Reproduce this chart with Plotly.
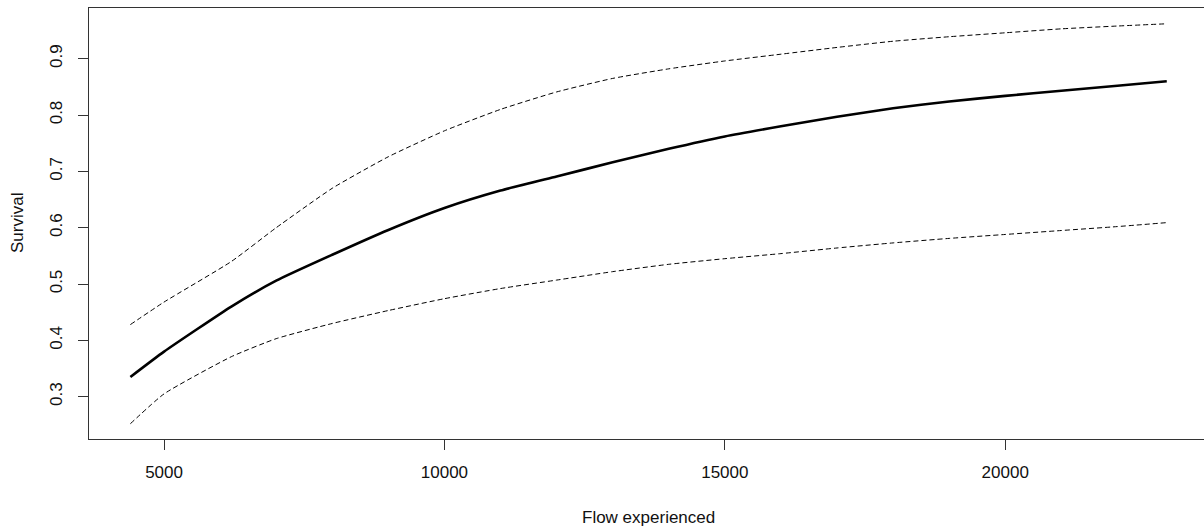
import plotly.graph_objects as go

flow = [4400, 5000, 6200, 7000, 8000, 9000, 10000, 11000, 12000, 13000, 14000,
        15000, 16000, 17000, 18000, 19000, 20000, 21000, 22000, 22880]
survival = [0.335, 0.380, 0.460, 0.506, 0.552, 0.596, 0.635, 0.666, 0.691, 0.716, 0.740,
            0.762, 0.780, 0.797, 0.812, 0.824, 0.834, 0.843, 0.852, 0.860]
upper = [0.428, 0.468, 0.540, 0.600, 0.670, 0.726, 0.772, 0.810, 0.841, 0.865, 0.882,
         0.896, 0.908, 0.920, 0.931, 0.939, 0.946, 0.953, 0.958, 0.962]
lower = [0.252, 0.305, 0.371, 0.403, 0.430, 0.453, 0.474, 0.492, 0.507, 0.522, 0.535,
         0.545, 0.554, 0.564, 0.573, 0.581, 0.588, 0.595, 0.602, 0.609]

x_ticks = [5000, 10000, 15000, 20000]
y_ticks = [0.3, 0.4, 0.5, 0.6, 0.7, 0.8, 0.9]

W, H = 1204, 526
ML, MR, MT, MB = 89, 0, 8, 87
FONT = "Liberation Sans, Arial, sans-serif"

fig = go.Figure()
fig.add_trace(go.Scatter(x=flow, y=upper, mode="lines",
                         line=dict(color="black", width=1, dash="5px,3px", shape="spline", smoothing=0.5),
                         showlegend=False))
fig.add_trace(go.Scatter(x=flow, y=lower, mode="lines",
                         line=dict(color="black", width=1, dash="5px,3px", shape="spline", smoothing=0.5),
                         showlegend=False))
fig.add_trace(go.Scatter(x=flow, y=survival, mode="lines",
                         line=dict(color="black", width=2.6, shape="spline", smoothing=0.5),
                         showlegend=False))

fig.update_layout(
    width=W, height=H,
    margin=dict(l=ML, r=MR, t=MT, b=MB, pad=0),
    paper_bgcolor="white", plot_bgcolor="white",
    font=dict(family=FONT, size=17, color="#111"),
    xaxis=dict(range=[3662, 23544], tickvals=x_ticks, ticktext=[str(v) for v in x_ticks],
               showgrid=False, zeroline=False, showline=True, linecolor="#333", linewidth=1,
               mirror=True, ticks="outside", ticklen=10, tickcolor="#333",
               ticklabelstandoff=8),
    yaxis=dict(range=[0.2249, 0.99], tickvals=y_ticks, ticktext=[str(v) for v in y_ticks],
               showgrid=False, zeroline=False, showline=True, linecolor="#333", linewidth=1,
               mirror=False, ticks="outside", ticklen=10, tickcolor="#333",
               tickangle=-90, ticklabelstandoff=9),
    annotations=[
        dict(text="Flow experienced", xref="paper", yref="paper",
             x=(648 - ML) / (W - ML - MR), y=-(517 - (H - MB)) / (H - MT - MB),
             xanchor="center", yanchor="middle", showarrow=False,
             font=dict(family=FONT, size=17, color="#111")),
        dict(text="Survival", xref="paper", yref="paper",
             x=(17 - ML) / (W - ML - MR), y=((H - MB) - 223) / (H - MT - MB),
             xanchor="center", yanchor="middle", textangle=-90, showarrow=False,
             font=dict(family=FONT, size=17, color="#111")),
    ],
)

fig.write_html("out.html", config={"displayModeBar": False},
               post_script="document.body.style.margin='0';document.body.style.overflow='hidden';")
